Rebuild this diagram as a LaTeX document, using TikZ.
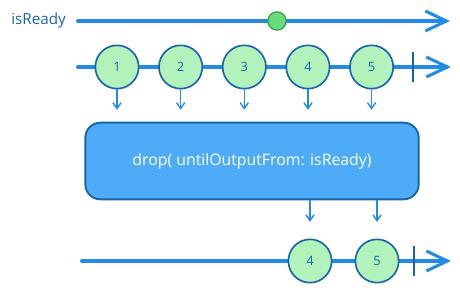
\documentclass[tikz,border=0pt]{standalone}
\usepackage{fontspec}
\setmainfont{Open Sans}
\usetikzlibrary{arrows.meta, positioning}

\definecolor{lineblue}{HTML}{228BE6}
\definecolor{darkblue}{HTML}{1864AB}
\definecolor{boxblue}{HTML}{4DABF7}
\definecolor{paleg}{HTML}{B2F2BB}
\definecolor{dotgreen}{HTML}{69DB7C}
\definecolor{dotedge}{HTML}{2F9E44}

\begin{document}
\begin{tikzpicture}[
    x=0.03cm, y=-0.03cm,
    timeline/.style={line width=3.4pt, lineblue, line cap=round, -{Straight Barb[length=18pt, width=17pt, line width=2.6pt]}},
    marble/.style={circle, draw=darkblue, line width=1.4pt, fill=paleg, minimum size=1.3cm, inner sep=0pt, font=\fontsize{11}{13}\selectfont, text=darkblue},
    signal/.style={circle, draw=dotedge, line width=1pt, fill=dotgreen, minimum size=0.55cm, inner sep=0pt},
    stopbar/.style={darkblue, line width=1.4pt},
    opbox/.style={draw=darkblue, line width=1.6pt, rounded corners=0.45cm, fill=boxblue, minimum width=10cm, minimum height=2.3cm, align=center, text=white, font=\fontsize{13.5}{16}\selectfont},
    down/.style={-{Straight Barb[length=5pt, width=7pt]}, lineblue, line width=1.2pt}
]
\useasboundingbox (0,0) rectangle (460,293);

% isReady stream
\node[anchor=east, text=darkblue, font=\fontsize{13}{15}\selectfont] (label) at (70,21) {isReady};
\coordinate (rs) at (78,21);
\coordinate (re) at (450,21);
\draw[timeline] (rs) -- (re);
\node[signal] (ready) at (277,21) {};

% source stream
\coordinate (ss) at (78,67);
\coordinate (se) at (451,67);
\draw[timeline] (ss) -- (se);
\node[marble] (s1) at (117,67) {1};
\node[marble, right=0.56cm of s1] (s2) {2};
\node[marble, right=0.56cm of s2] (s3) {3};
\node[marble, right=0.56cm of s3] (s4) {4};
\node[marble, right=0.56cm of s4] (s5) {5};
\coordinate (sbt) at (413,52);
\coordinate (sbb) at (413,82);
\draw[stopbar] (sbt) -- (sbb);

% operator
\node[opbox] (op) at (252,161) {drop( untilOutputFrom: isReady)};

% result stream
\coordinate (os) at (82,261);
\coordinate (oe) at (451,261);
\draw[timeline] (os) -- (oe);
\node[marble] (o4) at (310,261) {4};
\node[marble] (o5) at (377,261) {5};
\coordinate (obt) at (414,246);
\coordinate (obb) at (414,276);
\draw[stopbar] (obt) -- (obb);

% Arrows
\foreach \s in {s1,s2,s3,s4,s5}
  \draw[down, shorten >=0.36cm] (\s.south) -- (\s.south |- op.north);
\draw[down, shorten >=0.5cm] (o4.north |- op.south) -- (o4.north);
\draw[down, shorten >=0.5cm] (o5.north |- op.south) -- (o5.north);

\end{tikzpicture}
\end{document}
